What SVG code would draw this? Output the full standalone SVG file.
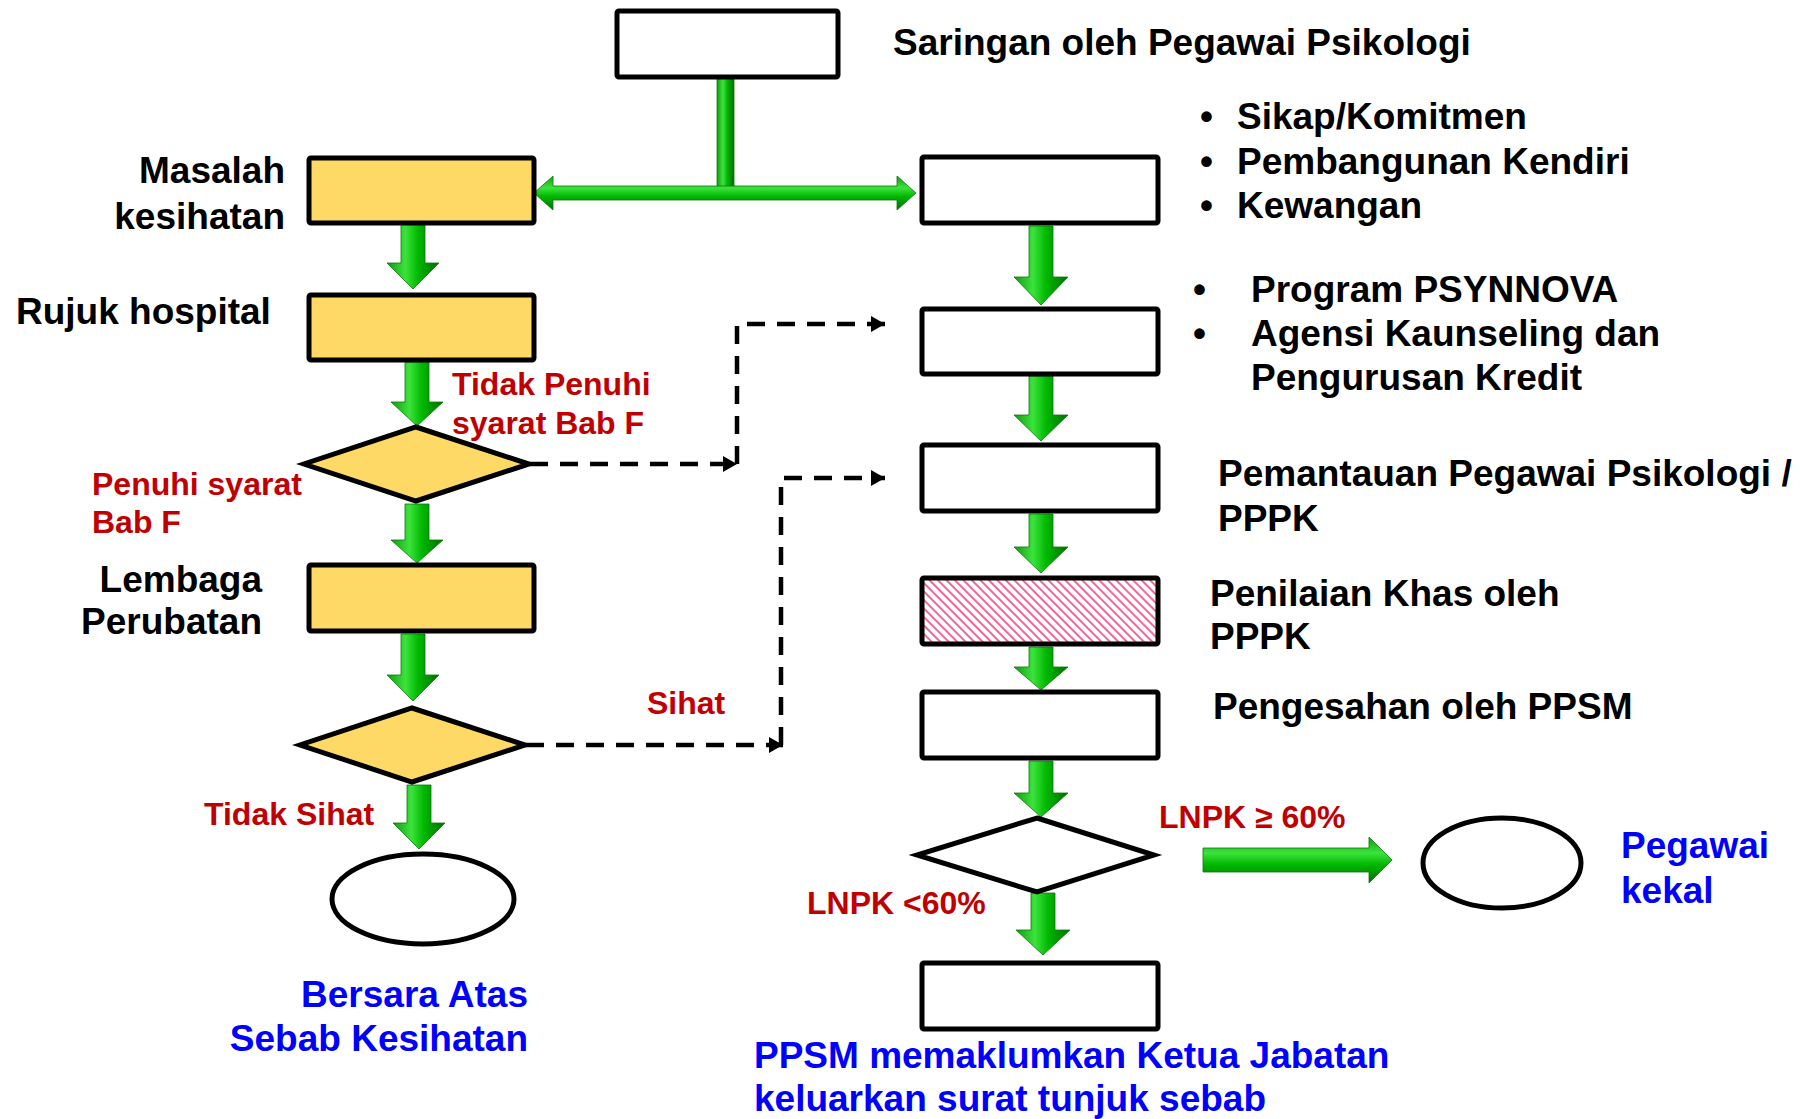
<svg xmlns="http://www.w3.org/2000/svg" width="1800" height="1119" viewBox="0 0 1800 1119">
<style>
text{font-family:"Liberation Sans",Arial,sans-serif;font-weight:bold}
.lbl{font-size:37px;fill:#000}
.red{font-size:32px;fill:#C00000}
.blue{font-size:37px;fill:#0000FF}
.box{fill:#fff;stroke:#000;stroke-width:5}
.ybox{fill:#FFD966;stroke:#000;stroke-width:5}
.hbox{fill:url(#hatch);stroke:#000;stroke-width:5}
.ell{fill:#fff;stroke:#000;stroke-width:5}
.ga{fill:url(#gv);stroke:#0A7A0A;stroke-width:0.8}
.gh{fill:url(#ghz);stroke:#0A7A0A;stroke-width:0.8}
.dash{fill:none;stroke:#000;stroke-width:4.5;stroke-dasharray:18 12}
</style>
<defs>
<linearGradient id="gv" x1="0" y1="0" x2="1" y2="0">
<stop offset="0" stop-color="#139A13"/>
<stop offset="0.35" stop-color="#3CE33C"/>
<stop offset="0.6" stop-color="#00B800"/>
<stop offset="1" stop-color="#006E00"/>
</linearGradient>
<linearGradient id="ghz" x1="0" y1="0" x2="0" y2="1">
<stop offset="0" stop-color="#139A13"/>
<stop offset="0.35" stop-color="#3CE33C"/>
<stop offset="0.6" stop-color="#00B800"/>
<stop offset="1" stop-color="#006E00"/>
</linearGradient>
<pattern id="hatch" patternUnits="userSpaceOnUse" width="6" height="6" patternTransform="rotate(-45)">
<rect width="6" height="6" fill="#fff"/>
<line x1="1" y1="0" x2="1" y2="6" stroke="#F2568C" stroke-width="1.8"/>
</pattern>
<marker id="ah" markerWidth="15" markerHeight="16" refX="14" refY="8" orient="auto" markerUnits="userSpaceOnUse">
<path d="M0,0 L14,8 L0,16 z" fill="#000"/>
</marker>
</defs>

<g id="connectors">
<polygon class="ga" points="717,78 734,78 734,188 725.5,194 717,188"/>
<polygon class="gh" points="534,193 553,176 553,186 897,186 897,176 916,193 897,210 897,200 553,200 553,210"/>
<polygon class="ga" points="401,224 425,224 425,263 439,263 413,289 387,263 401,263"/>
<polygon class="ga" points="405,362 429,362 429,402 443,402 417,426 391,402 405,402"/>
<polygon class="ga" points="405,504 429,504 429,540 443,540 417,563 391,540 405,540"/>
<polygon class="ga" points="401,634 425,634 425,675 439,675 413,701 387,675 401,675"/>
<polygon class="ga" points="407,785 431,785 431,823 445,823 419,849 393,823 407,823"/>
<polygon class="ga" points="1029,226 1053,226 1053,277 1068,277 1041,305 1014,277 1029,277"/>
<polygon class="ga" points="1029,376 1053,376 1053,415 1068,415 1041,441 1014,415 1029,415"/>
<polygon class="ga" points="1029,514 1053,514 1053,547 1068,547 1041,573 1014,547 1029,547"/>
<polygon class="ga" points="1029,647 1053,647 1053,667 1068,667 1041,690 1014,667 1029,667"/>
<polygon class="ga" points="1029,761 1053,761 1053,793 1068,793 1041,817 1014,793 1029,793"/>
<polygon class="ga" points="1031,893 1055,893 1055,930 1070,930 1043,955 1016,930 1031,930"/>
<polygon class="gh" points="1203,848 1369,848 1369,837 1392,860 1369,883 1369,872 1203,872"/>
<path class="dash" d="M530,464 H737" marker-end="url(#ah)"/>
<path class="dash" d="M737,464 V324 H885" marker-end="url(#ah)"/>
<path class="dash" d="M526,745 H783" marker-end="url(#ah)"/>
<path class="dash" d="M781,745 V478 H885" marker-end="url(#ah)"/>
</g>

<g id="n-saringan"><rect class="box" x="617" y="11" width="221" height="66" rx="2"/>
<text class="lbl" x="893" y="55">Saringan oleh Pegawai Psikologi</text></g>

<g id="n-masalah"><rect class="ybox" x="309" y="158" width="225" height="65" rx="2"/>
<text class="lbl" x="285" y="183" text-anchor="end">Masalah</text>
<text class="lbl" x="285" y="229" text-anchor="end">kesihatan</text></g>

<g id="n-rujuk"><rect class="ybox" x="309" y="295" width="225" height="65" rx="2"/>
<text class="lbl" x="16" y="324">Rujuk hospital</text></g>

<g id="n-d1"><polygon class="ybox" points="416,427 529,464 416,501 304,464"/>
<text class="red" x="452" y="395">Tidak Penuhi</text>
<text class="red" x="452" y="434">syarat Bab F</text>
<text class="red" x="92" y="495">Penuhi syarat</text>
<text class="red" x="92" y="533">Bab F</text></g>

<g id="n-lembaga"><rect class="ybox" x="309" y="565" width="225" height="66" rx="2"/>
<text class="lbl" x="262" y="592" text-anchor="end">Lembaga</text>
<text class="lbl" x="262" y="634" text-anchor="end">Perubatan</text></g>

<g id="n-d2"><polygon class="ybox" points="412,708 525,745 412,782 300,745"/>
<text class="red" x="647" y="714">Sihat</text>
<text class="red" x="204" y="825">Tidak Sihat</text></g>

<g id="n-bersara"><ellipse class="ell" cx="423" cy="899" rx="91" ry="45"/>
<text class="blue" x="528" y="1007" text-anchor="end">Bersara Atas</text>
<text class="blue" x="528" y="1051" text-anchor="end">Sebab Kesihatan</text></g>

<g id="n-a"><rect class="box" x="922" y="157" width="236" height="66" rx="2"/>
<text class="lbl" x="1200" y="129">•</text><text class="lbl" x="1237" y="129">Sikap/Komitmen</text>
<text class="lbl" x="1200" y="174">•</text><text class="lbl" x="1237" y="174">Pembangunan Kendiri</text>
<text class="lbl" x="1200" y="218">•</text><text class="lbl" x="1237" y="218">Kewangan</text></g>

<g id="n-b"><rect class="box" x="922" y="309" width="236" height="65" rx="2"/>
<text class="lbl" x="1193" y="302">•</text><text class="lbl" x="1251" y="302">Program PSYNNOVA</text>
<text class="lbl" x="1193" y="346">•</text><text class="lbl" x="1251" y="346">Agensi Kaunseling dan</text>
<text class="lbl" x="1251" y="390">Pengurusan Kredit</text></g>

<g id="n-c"><rect class="box" x="922" y="445" width="236" height="66" rx="2"/>
<text class="lbl" x="1218" y="486">Pemantauan Pegawai Psikologi /</text>
<text class="lbl" x="1218" y="531">PPPK</text></g>

<g id="n-d"><rect class="hbox" x="922" y="578" width="236" height="66" rx="2"/>
<text class="lbl" x="1210" y="606">Penilaian Khas oleh</text>
<text class="lbl" x="1210" y="649">PPPK</text></g>

<g id="n-e"><rect class="box" x="922" y="692" width="236" height="66" rx="2"/>
<text class="lbl" x="1213" y="719">Pengesahan oleh PPSM</text></g>

<g id="n-d3"><polygon class="box" points="1037,818 1154,855 1037,892 917,855"/>
<text class="red" x="1159" y="828">LNPK ≥ 60%</text>
<text class="red" x="807" y="914">LNPK &lt;60%</text></g>

<g id="n-kekal"><ellipse class="ell" cx="1502" cy="863" rx="79" ry="45"/>
<text class="blue" x="1621" y="858">Pegawai</text>
<text class="blue" x="1621" y="903">kekal</text></g>

<g id="n-f"><rect class="box" x="922" y="963" width="236" height="66" rx="2"/>
<text class="blue" x="754" y="1068">PPSM memaklumkan Ketua Jabatan</text>
<text class="blue" x="754" y="1111">keluarkan surat tunjuk sebab</text></g>
</svg>
